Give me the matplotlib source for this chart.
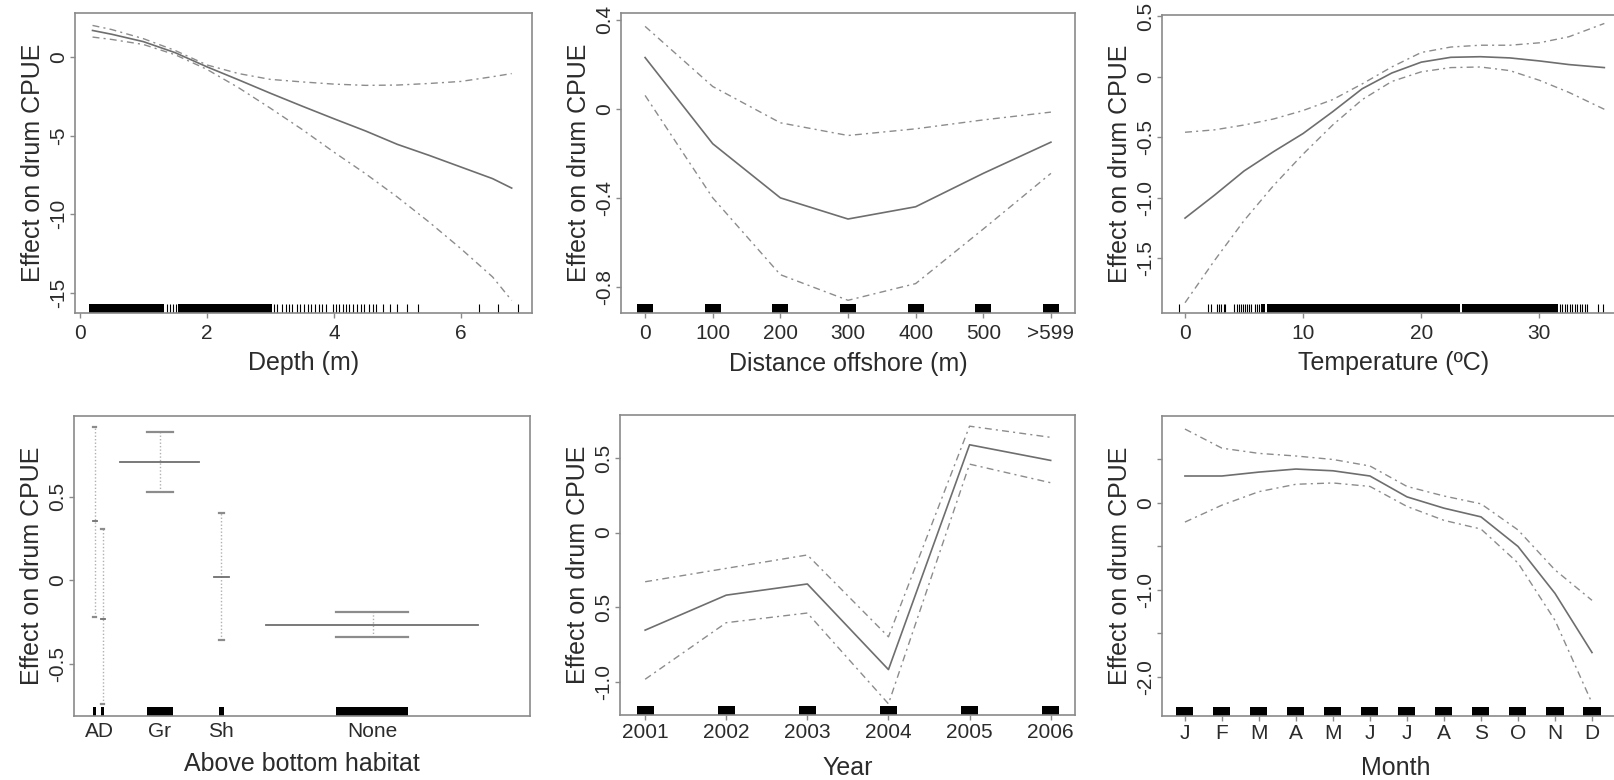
import matplotlib
matplotlib.use("Agg")
import matplotlib.pyplot as plt

plt.rcParams['font.family'] = ['Liberation Sans', 'DejaVu Sans']
plt.rcParams['axes.unicode_minus'] = False

W, H = 1614, 780
TXT = '#2b2b2b'
BOX = '#8a8a8a'
FIT_C = '#6e6e6e'
CI_C = '#8c8c8c'
CI_LS = (0, (5, 3, 1.5, 3))

# ---- depth (m)
depth_x = [0.2, 0.5, 1.0, 1.5, 2.0, 2.5, 3.0, 3.5, 4.0, 4.5, 5.0, 5.5, 6.0, 6.5, 6.8]
depth_fit = [1.69, 1.45, 0.98, 0.28, -0.62, -1.45, -2.30, -3.12, -3.92, -4.70, -5.55, -6.25, -6.99, -7.73, -8.33]
depth_up = [2.01, 1.75, 1.17, 0.42, -0.50, -1.05, -1.42, -1.58, -1.72, -1.80, -1.78, -1.68, -1.55, -1.25, -1.05]
depth_lo = [1.27, 1.12, 0.80, 0.15, -0.78, -1.95, -3.25, -4.60, -6.04, -7.42, -8.90, -10.49, -12.18, -13.98, -15.47]
depth_rug_blocks = [(0.15, 1.33), (1.55, 2.76), (2.76, 3.02)]
depth_rug_ticks = [1.37, 1.42, 1.47, 1.51, 3.05, 3.10, 3.18, 3.24, 3.29, 3.34, 3.42, 3.47, 3.53,
                   3.59, 3.64, 3.71, 3.77, 3.82, 3.87, 3.98, 4.03, 4.08, 4.14, 4.19, 4.24, 4.30,
                   4.37, 4.42, 4.48, 4.55, 4.62, 4.67, 4.77, 4.88, 4.99, 5.15, 5.33, 6.29, 6.59, 6.90]

# ---- distance offshore (m)
dist_x = [0, 100, 200, 300, 400, 500, 600]
dist_labels = ['0', '100', '200', '300', '400', '500', '>599']
dist_fit = [0.23, -0.157, -0.40, -0.495, -0.44, -0.29, -0.15]
dist_up = [0.37, 0.10, -0.063, -0.12, -0.09, -0.05, -0.015]
dist_lo = [0.06, -0.40, -0.745, -0.86, -0.785, -0.54, -0.29]

# ---- temperature (C)
temp_x = [0, 2.5, 5, 7.5, 10, 12.5, 15, 17.5, 20, 22.5, 25, 27.5, 30, 32.5, 35.5]
temp_fit = [-1.17, -0.98, -0.78, -0.62, -0.47, -0.29, -0.10, 0.03, 0.12, 0.16, 0.165, 0.155, 0.13, 0.10, 0.075]
temp_up = [-0.46, -0.44, -0.40, -0.35, -0.28, -0.19, -0.06, 0.08, 0.20, 0.245, 0.26, 0.26, 0.28, 0.33, 0.44]
temp_lo = [-1.87, -1.52, -1.19, -0.90, -0.64, -0.40, -0.19, -0.04, 0.04, 0.075, 0.08, 0.05, -0.03, -0.13, -0.27]
temp_rug_blocks = [(6.46, 6.80), (6.94, 23.30), (23.45, 31.59)]
temp_rug_ticks = [-0.5, 1.93, 2.21, 2.69, 2.89, 3.06, 3.26, 3.40, 4.16, 4.39, 4.59, 4.76, 4.87, 5.04,
                  5.24, 5.44, 5.61, 5.89, 6.09, 6.29, 31.73, 31.93, 32.15, 32.35, 32.58, 32.80,
                  33.00, 33.20, 33.43, 33.65, 33.85, 34.05, 34.99, 35.41]

# ---- above bottom habitat (levels placed along cumulative sample axis 0-100)
hab_levels = ['A', 'D', 'Gr', 'Sh', 'None']
hab_pos = [4.6, 6.3, 18.8, 32.2, 65.5]
hab_fit = [0.354, -0.234, 0.706, 0.022, -0.27]
hab_up = [0.92, 0.304, 0.886, 0.404, -0.19]
hab_lo = [-0.22, -0.744, 0.528, -0.36, -0.34]
hab_span = [(4.2, 5.0), (5.9, 6.7), (10.1, 27.4), (30.7, 34.0), (42.1, 88.6)]
hab_rug = [(4.2, 4.8), (5.9, 6.5), (15.9, 21.8), (31.8, 33.0), (57.4, 73.2)]
hab_tick_labels = ['AD', 'Gr', 'Sh', 'None']
hab_tick_pos = [5.5, 18.8, 32.2, 65.5]

# ---- year
year_x = [2001, 2002, 2003, 2004, 2005, 2006]
year_fit = [-0.655, -0.42, -0.345, -0.92, 0.59, 0.485]
year_up = [-0.33, -0.24, -0.15, -0.70, 0.715, 0.64]
year_lo = [-0.985, -0.605, -0.54, -1.15, 0.46, 0.335]

# ---- month
month_x = list(range(1, 13))
month_labels = ['J', 'F', 'M', 'A', 'M', 'J', 'J', 'A', 'S', 'O', 'N', 'D']
month_fit = [0.31, 0.31, 0.355, 0.39, 0.37, 0.31, 0.07, -0.06, -0.16, -0.50, -1.04, -1.72]
month_up = [0.85, 0.63, 0.57, 0.54, 0.50, 0.425, 0.19, 0.08, -0.01, -0.31, -0.77, -1.12]
month_lo = [-0.22, -0.025, 0.13, 0.215, 0.23, 0.19, -0.04, -0.20, -0.30, -0.69, -1.35, -2.30]

# jitter half-widths of the rug blocks on factor-like axes
DIST_JIT = 12
YEAR_JIT = 0.105
MONTH_JIT = 0.23


def px_axes(fig, x0, y0, x1, y1):
    return fig.add_axes([x0 / W, 1 - y1 / H, (x1 - x0) / W, (y1 - y0) / H])


def style(ax, xlabel, xpad=6.0, tpad=2.5):
    for s in ax.spines.values():
        s.set_color(BOX)
        s.set_linewidth(1.2)
    ax.tick_params(colors=BOX, labelcolor=TXT, length=3.6, width=1, labelsize=15)
    ax.tick_params(axis='x', pad=tpad)
    ax.tick_params(axis='y', pad=4)
    for lab in ax.get_yticklabels():
        lab.set_rotation(90)
        lab.set_rotation_mode('anchor')
        lab.set_ha('center')
        lab.set_va('baseline')
    ax.set_ylabel('Effect on drum CPUE', fontsize=18, color=TXT, labelpad=3)
    ax.set_xlabel(xlabel, fontsize=18, color=TXT, labelpad=xpad)


def rug(ax, ticks=(), blocks=()):
    tr = ax.get_xaxis_transform()
    if len(ticks):
        ax.vlines(ticks, 0, 0.03, transform=tr, color='k', lw=0.8)
    for a, b in blocks:
        ax.axvspan(a, b, 0, 0.03, color='k', lw=0)


def smooth(ax, x, fit, up, lo):
    ax.plot(x, fit, color=FIT_C, lw=1.2)
    ax.plot(x, up, color=CI_C, lw=1.0, ls=CI_LS)
    ax.plot(x, lo, color=CI_C, lw=1.0, ls=CI_LS)


fig = plt.figure(figsize=(W / 100, H / 100), dpi=100)

# depth
ax = px_axes(fig, 75, 13, 532, 313)
smooth(ax, depth_x, depth_fit, depth_up, depth_lo)
rug(ax, depth_rug_ticks, depth_rug_blocks)
ax.set_xlim(-0.076, 7.12)
ax.set_ylim(-16.27, 2.8)
ax.set_xticks([0, 2, 4, 6])
ax.set_yticks([0, -5, -10, -15])
style(ax, 'Depth (m)', xpad=6.0, tpad=4)

# distance offshore
ax = px_axes(fig, 621, 13, 1075, 313)
smooth(ax, dist_x, dist_fit, dist_up, dist_lo)
rug(ax, blocks=[(d - DIST_JIT, d + DIST_JIT) for d in dist_x])
ax.set_xlim(-35.6, 635.6)
ax.set_ylim(-0.917, 0.43)
ax.set_xticks(dist_x)
ax.set_xticklabels(dist_labels)
ax.set_yticks([0.4, 0, -0.4, -0.8])
ax.set_yticklabels(['0.4', '0', '-0.4', '-0.8'])
style(ax, 'Distance offshore (m)', xpad=6.5, tpad=4)

# temperature
ax = px_axes(fig, 1162, 15, 1625, 313)
smooth(ax, temp_x, temp_fit, temp_up, temp_lo)
rug(ax, temp_rug_ticks, temp_rug_blocks)
ax.set_xlim(-1.95, 37.25)
ax.set_ylim(-1.955, 0.51)
ax.set_xticks([0, 10, 20, 30])
ax.set_yticks([0.5, 0, -0.5, -1.0, -1.5])
ax.set_yticklabels(['0.5', '0', '-0.5', '-1.0', '-1.5'])
style(ax, 'Temperature (ºC)', xpad=6.0, tpad=4)

# habitat
ax = px_axes(fig, 74, 416, 530, 716)
for i in range(len(hab_levels)):
    x = hab_pos[i]
    a, b = hab_span[i]
    c0, c1 = hab_rug[i]
    ax.plot([x, x], [hab_lo[i], hab_up[i]], color='#b0b0b0', lw=1.0, ls=(0, (1, 1.5)))
    ax.plot([c0, c1], [hab_up[i], hab_up[i]], color=CI_C, lw=1.6)
    ax.plot([c0, c1], [hab_lo[i], hab_lo[i]], color=CI_C, lw=1.6)
    ax.plot([a, b], [hab_fit[i], hab_fit[i]], color=FIT_C, lw=1.3)
rug(ax, blocks=hab_rug)
ax.set_xlim(0, 100)
ax.set_ylim(-0.814, 0.984)
ax.set_xticks(hab_tick_pos)
ax.set_xticklabels(hab_tick_labels)
ax.set_yticks([0.5, 0, -0.5])
ax.set_yticklabels(['0.5', '0', '-0.5'])
style(ax, 'Above bottom habitat', xpad=8.5)
ax.tick_params(axis='x', length=0, pad=4)

# year
ax = px_axes(fig, 620, 415, 1075, 715)
smooth(ax, year_x, year_fit, year_up, year_lo)
rug(ax, blocks=[(y - YEAR_JIT, y + YEAR_JIT) for y in year_x])
ax.set_xlim(2000.69, 2006.3)
ax.set_ylim(-1.225, 0.79)
ax.set_xticks(year_x)
ax.set_xticklabels([str(y) for y in year_x])
ax.set_yticks([0.5, 0, -0.5, -1.0])
ax.set_yticklabels(['0.5', '0', '0.5', '-1.0'])
style(ax, 'Year', xpad=9.5)

# month
ax = px_axes(fig, 1162, 416, 1629, 716)
smooth(ax, month_x, month_fit, month_up, month_lo)
rug(ax, blocks=[(m - MONTH_JIT, m + MONTH_JIT) for m in month_x])
ax.set_xlim(0.38, 13.0)
ax.set_ylim(-2.45, 1.0)
ax.set_xticks(month_x)
ax.set_xticklabels(month_labels)
ax.set_yticks([0.5, 0, -0.5, -1.0, -1.5, -2.0])
ax.set_yticklabels(['', '0', '', '-1.0', '', '-2.0'])
style(ax, 'Month', xpad=9.0)

fig.savefig('out.png', dpi=100)
